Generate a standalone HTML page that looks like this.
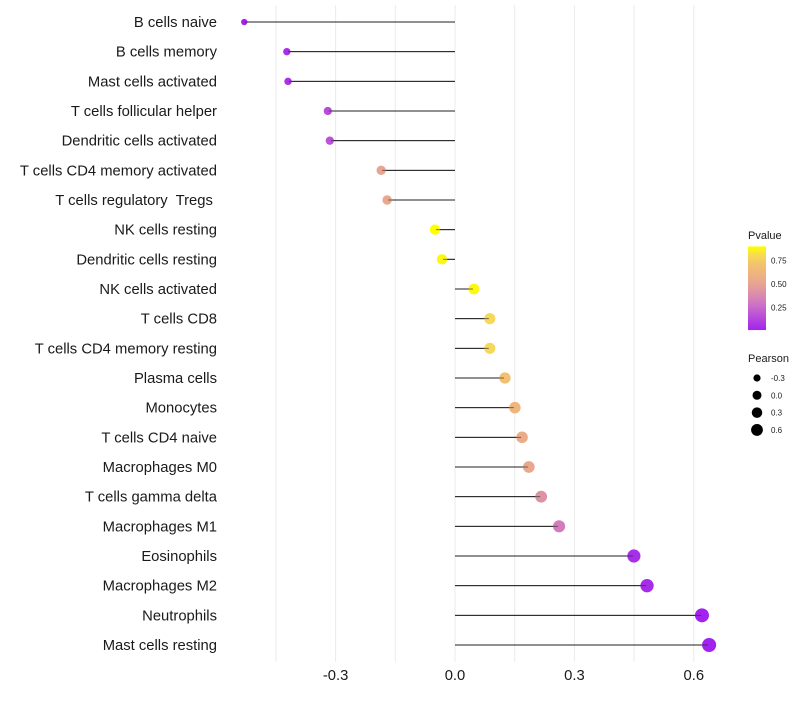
<!DOCTYPE html>
<html><head><meta charset="utf-8"><style>
body{margin:0;background:#fff;font-family:"Liberation Sans",sans-serif}
text{white-space:pre}
</style></head><body>
<svg id="chart" width="800" height="700" xmlns="http://www.w3.org/2000/svg"></svg>
<script>
const categories=["B cells naive","B cells memory","Mast cells activated","T cells follicular helper","Dendritic cells activated","T cells CD4 memory activated","T cells regulatory  Tregs ","NK cells resting","Dendritic cells resting","NK cells activated","T cells CD8","T cells CD4 memory resting","Plasma cells","Monocytes","T cells CD4 naive","Macrophages M0","T cells gamma delta","Macrophages M1","Eosinophils","Macrophages M2","Neutrophils","Mast cells resting"];
const pearson=[-0.527,-0.42,-0.417,-0.317,-0.312,-0.183,-0.168,-0.048,-0.03,0.045,0.085,0.085,0.123,0.148,0.166,0.183,0.214,0.259,0.447,0.48,0.618,0.636];
const pvalues=[0.01,0.05,0.06,0.15,0.17,0.5,0.52,0.9,0.88,0.88,0.8,0.8,0.7,0.62,0.55,0.52,0.42,0.32,0.05,0.04,0.01,0.005];
const xTicks=[-0.3,0.0,0.3,0.6];
const xTickLabels=["-0.3","0.0","0.3","0.6"];
const pTicks=[0.25,0.5,0.75];
const sizeTicks=[-0.3,0.0,0.3,0.6];

const svg=document.getElementById('chart');
const NS="http://www.w3.org/2000/svg";
const X=v=>455+v*398;
const Y=i=>22+i*(623/21);
const R=v=>Math.sqrt(Math.max(2,28+34*v));
const stops=[[0,[160,32,240]],[0.3,[208,120,196]],[0.5,[232,165,145]],[0.7,[242,192,112]],[0.8,[246,216,90]],[0.9,[255,255,0]]];
function col(p){p=Math.min(0.9,Math.max(0,p));
 for(let k=1;k<stops.length;k++){if(p<=stops[k][0]){const a=stops[k-1],b=stops[k];const t=(p-a[0])/(b[0]-a[0]);
  const c=a[1].map((x,i)=>Math.round(x+(b[1][i]-x)*t));return `rgb(${c[0]},${c[1]},${c[2]})`;}}
 return 'rgb(255,255,0)';}
function el(tag,attrs,name,txt){const e=document.createElementNS(NS,tag);
 for(const k in attrs)e.setAttribute(k,attrs[k]);
 
 
 if(txt!==undefined)e.textContent=txt;svg.appendChild(e);return e;}
for(let v=-0.45;v<=0.61;v+=0.15){el('line',{x1:X(v),x2:X(v),y1:5,y2:662,stroke:'#ebebeb','stroke-width':1},'grid-line');}
xTicks.forEach((v,i)=>{el('text',{x:X(v),y:680,'text-anchor':'middle','font-size':14.8,fill:'#1a1a1a'},'x-tick-label',xTickLabels[i]);});
categories.forEach((c,i)=>{
 el('text',{x:217,y:Y(i)+5,'text-anchor':'end','font-size':14.8,fill:'#1a1a1a'},'y-label',c);
 el('line',{x1:X(0),x2:X(pearson[i]),y1:Y(i),y2:Y(i),stroke:'#222','stroke-width':1},'stem');
 el('circle',{cx:X(pearson[i])+(pearson[i]>=0?1:-1),cy:Y(i),r:R(pearson[i]),fill:col(pvalues[i])},'point');
 el('line',{x1:X(0),x2:X(pearson[i]),y1:Y(i),y2:Y(i),stroke:'#222','stroke-width':1,'stroke-opacity':0.6},'stem-overlay');
});
el('text',{x:748,y:239,'font-size':11,fill:'#1a1a1a'},'pvalue-legend-title','Pvalue');
const defs=document.createElementNS(NS,'defs');defs.innerHTML='<linearGradient id="g" x1="0" y1="1" x2="0" y2="0"></linearGradient>';svg.appendChild(defs);
const g=defs.firstChild;for(let k=0;k<=10;k++){const s=document.createElementNS(NS,'stop');s.setAttribute('offset',k/10);s.setAttribute('stop-color',col(0.01+0.89*k/10));g.appendChild(s);}
const PY=p=>331-p*94;
el('rect',{x:748,y:PY(0.9),width:18,height:PY(0.01)-PY(0.9),fill:'url(#g)'},'pvalue-colorbar');
pTicks.forEach(p=>{el('text',{x:771,y:PY(p)+3,'font-size':8,fill:'#1a1a1a'},'pvalue-tick',p.toFixed(2));});
el('text',{x:748,y:362,'font-size':11,fill:'#1a1a1a'},'pearson-legend-title','Pearson');
sizeTicks.forEach((v,i)=>{const y=378+i*17.3;
 el('circle',{cx:757,cy:y,r:R(v)*0.85,fill:'#000'},'size-legend-dot');
 el('text',{x:771,y:y+3,'font-size':8,fill:'#1a1a1a'},'size-legend-label',v.toFixed(1));});
</script>
</body></html>
